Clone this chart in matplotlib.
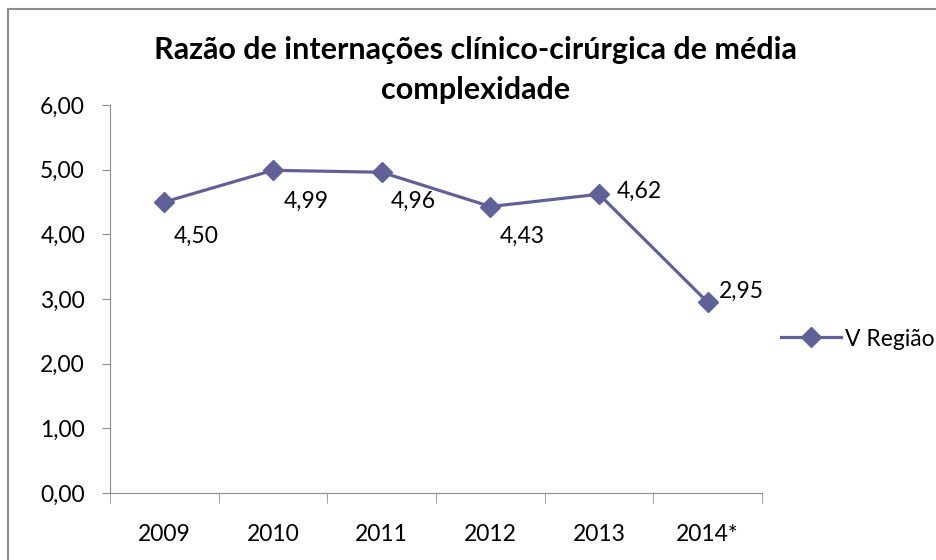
import matplotlib.pyplot as plt
from matplotlib.patches import Rectangle

# data
anos = ['2009', '2010', '2011', '2012', '2013', '2014*']
razao = [4.50, 4.99, 4.96, 4.43, 4.62, 2.95]
rotulos = ['4,50', '4,99', '4,96', '4,43', '4,62', '2,95']
# label offsets in pixels (dx, dy)
offs = [(32, -34), (33, -31), (32, -29), (32, -30), (40, 3), (34, 11)]

cor = '#616199'
cinza = '#8c8c8c'
plt.rcParams['font.family'] = ['Lato', 'DejaVu Sans']

fig = plt.figure(figsize=(9.37, 5.6), dpi=100)
ax = fig.add_axes([110/937, 67/560, 652/937, 388/560])

x = list(range(len(anos)))
ax.plot(x, razao, color=cor, lw=2.3, marker='D', ms=10, label='V Região')
for i in x:
    ax.annotate(rotulos[i], (x[i], razao[i]), xytext=offs[i], textcoords='offset pixels',
                ha='center', va='center', fontsize=16.5)

ax.set_xlim(-0.5, 5.5)
ax.set_ylim(0, 6)
ax.set_yticks([0, 1, 2, 3, 4, 5, 6])
ax.set_yticklabels([('%.2f' % v).replace('.', ',') for v in [0, 1, 2, 3, 4, 5, 6]])
ax.set_xticks(x)
ax.set_xticklabels(anos)
ax.set_xticks([i - 0.5 for i in range(len(anos) + 1)], minor=True)
ax.tick_params(axis='x', which='major', length=0, pad=22, labelsize=16.5)
ax.tick_params(axis='x', which='minor', length=7, color=cinza, direction='out')
ax.tick_params(axis='y', length=6, color=cinza, pad=12, labelsize=16.5)
for s in ['top', 'right']:
    ax.spines[s].set_visible(False)
for s in ['left', 'bottom']:
    ax.spines[s].set_color(cinza)

fig.text(475/937, 1 - 50/560, 'Razão de internações clínico-cirúrgica de média',
         ha='center', va='center', fontsize=22, fontweight='bold')
fig.text(476/937, 1 - 90/560, 'complexidade',
         ha='center', va='center', fontsize=22, fontweight='bold')

ax.legend(loc='center left', bbox_to_anchor=(772/937, 1 - 339/560), bbox_transform=fig.transFigure,
          frameon=False, fontsize=16.5, handlelength=2.6, handletextpad=0.2, borderaxespad=0)

fig.patches.append(Rectangle((8/937, -0.1), 1.2, 1 - 9/560 + 0.1, transform=fig.transFigure,
                             fill=False, edgecolor=cinza, lw=1.5))

fig.savefig('out.png', dpi=100)
